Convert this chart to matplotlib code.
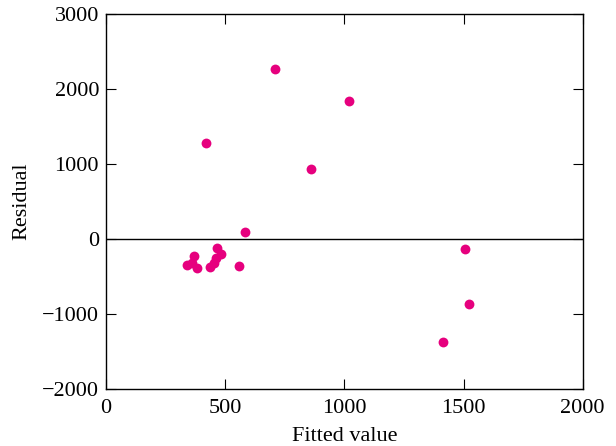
import matplotlib
matplotlib.use('Agg')
import matplotlib.pyplot as plt

# fitted values and residuals
fitted = [341, 359, 371, 382, 437, 453, 461, 465, 483, 560, 585,
          420, 711, 860, 1020, 1414, 1506, 1524]
residual = [-346, -320, -226, -382, -377, -324, -258, -120, -195, -355, 98,
            1283, 2260, 928, 1834, -1381, -133, -866]

x_ticks = [0, 500, 1000, 1500, 2000]
y_ticks = [-2000, -1000, 0, 1000, 2000, 3000]

plt.rcParams['font.family'] = ['Liberation Serif', 'DejaVu Serif']
plt.rcParams['axes.unicode_minus'] = True

fig = plt.figure(figsize=(6.16, 4.46), dpi=100)
ax = fig.add_axes([0.172, 0.128, 0.774, 0.841])
ax.scatter(fitted, residual, s=50, color='#e6007e', zorder=3, linewidths=0)
ax.axhline(0, color='black', lw=1.0)

ax.set_xlim(0, 2000); ax.set_ylim(-2000, 3000)
ax.set_xticks(x_ticks); ax.set_yticks(y_ticks)
ax.tick_params(direction='in', top=True, right=True, length=7, width=0.8,
               labelsize=16)
ax.tick_params(axis='x', pad=7)
ax.tick_params(axis='y', pad=5)
for s in ax.spines.values():
    s.set_linewidth(1.0)
ax.set_xlabel('Fitted value', fontsize=16, labelpad=7)
ax.set_ylabel('Residual', fontsize=16, labelpad=8)

fig.savefig('out.png', dpi=100)
